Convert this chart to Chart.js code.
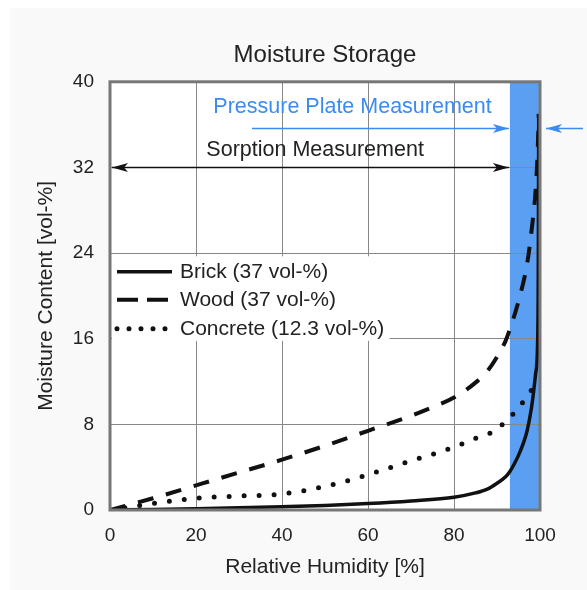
<!DOCTYPE html>
<html>
<head>
<meta charset="utf-8">
<title>Moisture Storage</title>
<script src="https://cdn.jsdelivr.net/npm/chart.js@4.4.1/dist/chart.umd.min.js"></script>
<style>
  html, body { margin: 0; padding: 0; background: #fff; }
  #wrap { width: 587px; height: 590px; }
</style>
</head>
<body>
<div id="wrap"><canvas id="moistureChart" width="587" height="590"></canvas></div>
<script>
// tick labels
const rhTicks = [0, 20, 40, 60, 80, 100];
const mcTicks = [0, 8, 16, 24, 32, 40];

// series (relative humidity %, moisture content vol-%)
const brickRH = [0, 10, 20, 30, 40, 50, 60, 70, 80, 85, 88, 90, 92, 93, 94, 95, 96, 97, 98, 98.5, 99, 99.4, 99.6, 99.7];
const brickMC = [0, 0.05, 0.12, 0.2, 0.3, 0.42, 0.6, 0.85, 1.2, 1.6, 2.0, 2.5, 3.1, 3.6, 4.3, 5.1, 6.1, 7.4, 9.5, 11, 12.8, 15, 22, 37];

const woodRH = [0, 10, 20, 30, 40, 50, 60, 70, 75, 80, 85, 88, 90, 92, 93, 95, 97, 98, 99, 99.5, 99.7];
const woodMC = [0, 1.1, 2.3, 3.5, 4.7, 6.0, 7.4, 8.8, 9.6, 10.5, 11.9, 13.1, 14.3, 15.8, 16.9, 19.5, 23, 26, 30, 34, 37];

const concreteRH = [0, 10, 20, 30, 40, 50, 60, 70, 78, 82, 85, 89, 92.6, 95.3, 98, 99, 99.5];
const concreteMC = [0, 0.6, 1.1, 1.3, 1.5, 2.2, 3.3, 4.6, 5.6, 6.2, 6.7, 7.3, 8.5, 9.7, 11.2, 11.9, 12.3];

const seriesLabels = ["Brick (37 vol-%)", "Wood (37 vol-%)", "Concrete (12.3 vol-%)"];
const pressurePlateFrom = 93; // band start, % RH

const FONT = "'Liberation Sans', Arial, Helvetica, sans-serif";
const BLUE = "#3b8cf0";
const INK = "#222";

Chart.defaults.font.family = FONT;
Chart.defaults.color = INK;

const toPoints = (xs, ys) => xs.map((x, i) => ({ x, y: ys[i] }));

function arrowHead(ctx, x, y, dir) {
  ctx.beginPath();
  ctx.moveTo(x, y);
  ctx.lineTo(x - dir * 16, y - 4.5);
  ctx.lineTo(x - dir * 12, y);
  ctx.lineTo(x - dir * 16, y + 4.5);
  ctx.closePath();
  ctx.fill();
}

function arrow(ctx, x1, x2, y, color, both) {
  ctx.strokeStyle = color;
  ctx.fillStyle = color;
  ctx.lineWidth = 1.5;
  ctx.setLineDash([]);
  ctx.beginPath();
  ctx.moveTo(x1, y);
  ctx.lineTo(x2, y);
  ctx.stroke();
  const dir = x2 > x1 ? 1 : -1;
  arrowHead(ctx, x2, y, dir);
  if (both) arrowHead(ctx, x1, y, -dir);
}

const moisturePlugin = {
  id: "moisture",
  beforeDraw(chart) {
    const { ctx, chartArea: a, scales: { x } } = chart;
    ctx.save();
    ctx.fillStyle = "#f9f9f9";
    ctx.fillRect(10, 8, chart.width - 10, chart.height - 8);
    ctx.fillStyle = "#fff";
    ctx.fillRect(a.left, a.top, a.width, a.height);
    const bx = x.getPixelForValue(pressurePlateFrom);
    ctx.fillStyle = "#5a9ff2";
    ctx.fillRect(bx, a.top, a.right - bx, a.height);
    ctx.restore();
  },
  afterDatasetsDraw(chart) {
    // legend inside the plot, on a white box
    const { ctx, chartArea: a, scales: { x, y } } = chart;
    ctx.save();
    ctx.fillStyle = "#fff";
    const top = y.getPixelForValue(23.7), bot = y.getPixelForValue(15.8);
    ctx.fillRect(a.left + 2, top, x.getPixelForValue(65) - a.left - 2, bot - top);

    const rows = [a.top + 190, a.top + 218, a.top + 247];
    const styles = [
      { dash: [], width: 3.5, cap: "butt" },
      { dash: [21, 9], width: 4, cap: "butt" },
      { dash: [0, 12], width: 5, cap: "round" }
    ];
    ctx.font = "21px " + FONT;
    ctx.textBaseline = "middle";
    chart.data.datasets.forEach((ds, i) => {
      const s = styles[i];
      ctx.strokeStyle = ds.borderColor;
      ctx.lineWidth = s.width;
      ctx.lineCap = s.cap;
      ctx.setLineDash(s.dash);
      ctx.beginPath();
      ctx.moveTo(a.left + 7, rows[i]);
      ctx.lineTo(a.left + 62, rows[i]);
      ctx.stroke();
      ctx.fillStyle = INK;
      ctx.fillText(ds.label, a.left + 70, rows[i]);
    });
    ctx.restore();
  },
  afterDraw(chart) {
    const { ctx, chartArea: a, scales: { x, y } } = chart;
    ctx.save();
    // frame
    ctx.strokeStyle = "#777";
    ctx.lineWidth = 3;
    ctx.strokeRect(a.left, a.top, a.width, a.height);

    const band = x.getPixelForValue(pressurePlateFrom) - 1;
    ctx.font = "21.5px " + FONT;
    ctx.textAlign = "center";
    ctx.textBaseline = "middle";

    // pressure plate annotation
    ctx.fillStyle = BLUE;
    ctx.fillText("Pressure Plate Measurement", x.getPixelForValue(56.4), y.getPixelForValue(37.6));
    const py = Math.round(y.getPixelForValue(35.7)) + 0.5;
    arrow(ctx, x.getPixelForValue(33), band, py, BLUE, false);
    arrow(ctx, a.right + 43, a.right + 6, py, BLUE, false);

    // sorption annotation
    ctx.fillStyle = INK;
    ctx.fillText("Sorption Measurement", x.getPixelForValue(47.7), y.getPixelForValue(33.6));
    const sy = Math.round(y.getPixelForValue(32)) + 0.5;
    arrow(ctx, a.left + 2, band, sy, "#111", true);
    ctx.restore();
  }
};

new Chart(document.getElementById("moistureChart"), {
  type: "line",
  data: {
    datasets: [
      { label: seriesLabels[0], data: toPoints(brickRH, brickMC), borderColor: "#111", borderWidth: 3.5, pointRadius: 0, cubicInterpolationMode: "monotone" },
      { label: seriesLabels[1], data: toPoints(woodRH, woodMC), borderColor: "#111", borderWidth: 4, borderDash: [16, 13], pointRadius: 0, cubicInterpolationMode: "monotone" },
      { label: seriesLabels[2], data: toPoints(concreteRH, concreteMC), borderColor: "#111", borderWidth: 5, borderDash: [0, 15], borderCapStyle: "round", pointRadius: 0, cubicInterpolationMode: "monotone" }
    ]
  },
  options: {
    responsive: false,
    animation: false,
    devicePixelRatio: 1,
    layout: { padding: { left: 10, right: 47, top: 0, bottom: 0 } },
    plugins: {
      legend: { display: false },
      tooltip: { enabled: false },
      title: {
        display: true,
        fullSize: false,
        text: "Moisture Storage",
        color: INK,
        font: { size: 24, weight: "normal" },
        padding: { top: 41, bottom: 12 }
      }
    },
    scales: {
      x: {
        type: "linear",
        min: 0,
        max: 100,
        afterBuildTicks: axis => { axis.ticks = rhTicks.map(v => ({ value: v })); },
        afterFit: axis => { axis.height = 80; },
        ticks: { color: INK, font: { size: 19 }, padding: 14, maxRotation: 0 },
        grid: { color: "#888", lineWidth: 1, drawTicks: false },
        border: { display: false },
        title: { display: true, text: "Relative Humidity [%]", color: INK, font: { size: 21 }, padding: { bottom: 10 } }
      },
      y: {
        type: "linear",
        min: 0,
        max: 40,
        afterBuildTicks: axis => { axis.ticks = mcTicks.map(v => ({ value: v })); },
        afterFit: axis => { axis.width = 100; },
        ticks: { color: INK, font: { size: 19 }, padding: 16 },
        grid: { color: "#888", lineWidth: 1, drawTicks: false },
        border: { display: false },
        title: { display: true, text: "Moisture Content [vol-%]", color: INK, font: { size: 21 }, padding: { top: 24 } }
      }
    }
  },
  plugins: [moisturePlugin]
});
</script>
</body>
</html>
